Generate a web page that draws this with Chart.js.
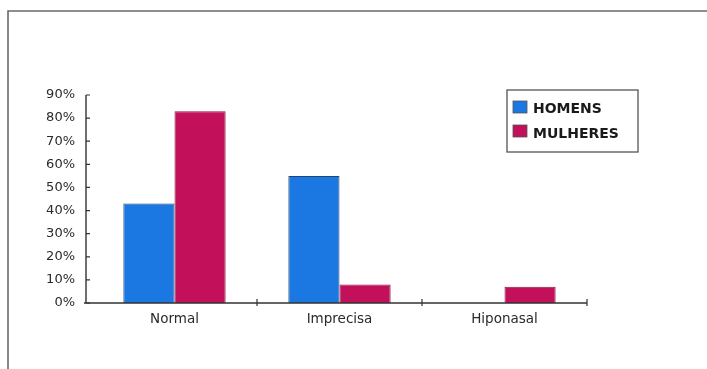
<!DOCTYPE html>
<html>
<head>
<meta charset="utf-8">
<script src="https://cdn.jsdelivr.net/npm/chart.js@4/dist/chart.umd.min.js"></script>
<style>
  html, body { margin: 0; padding: 0; background: #ffffff; }
  #wrap { position: relative; width: 707px; height: 369px; }
</style>
</head>
<body>
<div id="wrap"><canvas id="c" width="707" height="369"></canvas></div>
<script>
// Categories and values (percent)
const categories = ['Normal', 'Imprecisa', 'Hiponasal'];
const homens = [43, 55, 0];
const mulheres = [83, 8, 7];
const yTicks = [0, 10, 20, 30, 40, 50, 60, 70, 80, 90];
const seriesNames = ['HOMENS', 'MULHERES'];

const BLUE = '#1b78e2';
const MAGENTA = '#c2105b';
const INK = '#333333';
const FONT = '"DejaVu Sans", "Liberation Sans", Arial, sans-serif';

// Page frame lines (top and left)
const framePlugin = {
  id: 'frame',
  beforeDraw(chart) {
    const ctx = chart.ctx;
    ctx.save();
    ctx.fillStyle = '#ffffff';
    ctx.fillRect(0, 0, chart.width, chart.height);
    ctx.strokeStyle = '#6a6a6a';
    ctx.lineWidth = 1.6;
    ctx.beginPath();
    ctx.moveTo(8, chart.height);
    ctx.lineTo(8, 11);
    ctx.lineTo(chart.width, 11);
    ctx.stroke();
    ctx.restore();
  }
};

// Axis lines with short tick marks; the value axis sits a little left of the first bar group
const AXIS_GAP = 6;
const axesPlugin = {
  id: 'axesTicks',
  afterDatasetsDraw(chart) {
    const ctx = chart.ctx;
    const x = chart.scales.x, y = chart.scales.y;
    const a = chart.chartArea;
    const ax = a.left - AXIS_GAP;
    ctx.save();
    ctx.strokeStyle = INK;
    ctx.lineWidth = 1.4;
    ctx.beginPath();
    ctx.moveTo(ax, y.getPixelForValue(yTicks[yTicks.length - 1]));
    ctx.lineTo(ax, a.bottom);
    ctx.moveTo(ax - 2, a.bottom);
    ctx.lineTo(a.right, a.bottom);
    ctx.stroke();
    ctx.lineWidth = 1.2;
    ctx.beginPath();
    yTicks.forEach(v => {
      const py = y.getPixelForValue(v);
      ctx.moveTo(ax, py);
      ctx.lineTo(ax + 4, py);
    });
    // category boundaries on the x axis
    const n = categories.length;
    const step = x.getPixelForValue(1) - x.getPixelForValue(0);
    for (let i = 1; i <= n; i++) {
      const bx = x.getPixelForValue(i - 1) + step / 2;
      ctx.moveTo(bx, a.bottom - 4);
      ctx.lineTo(bx, a.bottom + 3);
    }
    ctx.stroke();
    ctx.restore();
  }
};

// Boxed legend drawn inside the plot
const boxLegendPlugin = {
  id: 'boxLegend',
  afterDraw(chart) {
    const ctx = chart.ctx;
    ctx.save();
    const bx = 507, by = 90, bw = 131, bh = 62;
    ctx.strokeStyle = '#555555';
    ctx.lineWidth = 1.3;
    ctx.strokeRect(bx, by, bw, bh);
    ctx.font = 'bold 14px ' + FONT;
    ctx.textBaseline = 'middle';
    chart.data.datasets.forEach((ds, i) => {
      const cy = by + 17 + i * 24;
      ctx.fillStyle = ds.backgroundColor;
      ctx.fillRect(bx + 6, cy - 6, 14, 12);
      ctx.strokeStyle = '#555';
      ctx.lineWidth = 0.8;
      ctx.strokeRect(bx + 6, cy - 6, 14, 12);
      ctx.fillStyle = '#1a1a1a';
      ctx.fillText(ds.label, bx + 26, cy + 2 + i);
    });
    ctx.restore();
  }
};

new Chart(document.getElementById('c'), {
  type: 'bar',
  data: {
    labels: categories,
    datasets: [
      { label: seriesNames[0], data: homens, backgroundColor: BLUE, borderColor: '#25446e', borderWidth: 1 },
      { label: seriesNames[1], data: mulheres, backgroundColor: MAGENTA, borderColor: '#8a1a48', borderWidth: 1 }
    ]
  },
  options: {
    responsive: false,
    animation: false,
    devicePixelRatio: 1,
    layout: { padding: { left: 0, right: 120, top: 95, bottom: 36 } },
    plugins: { legend: { display: false }, tooltip: { enabled: false } },
    datasets: { bar: { categoryPercentage: 0.62, barPercentage: 1.0 } },
    scales: {
      x: {
        grid: { display: false, drawTicks: false },
        border: { display: false },
        afterFit(s) { s.height = 30; },
        ticks: { color: '#2a2a2a', padding: 8, font: { family: FONT, size: 13.5 } }
      },
      y: {
        min: 0, max: 90,
        afterFit(s) { s.width = 92; },
        afterBuildTicks(s) { s.ticks = yTicks.map(v => ({ value: v })); },
        grid: { display: false, drawTicks: false },
        border: { display: false },
        ticks: {
          color: '#2a2a2a', padding: 17,
          font: { family: FONT, size: 13 },
          callback: v => v + '%'
        }
      }
    }
  },
  plugins: [framePlugin, axesPlugin, boxLegendPlugin]
});
</script>
</body>
</html>
